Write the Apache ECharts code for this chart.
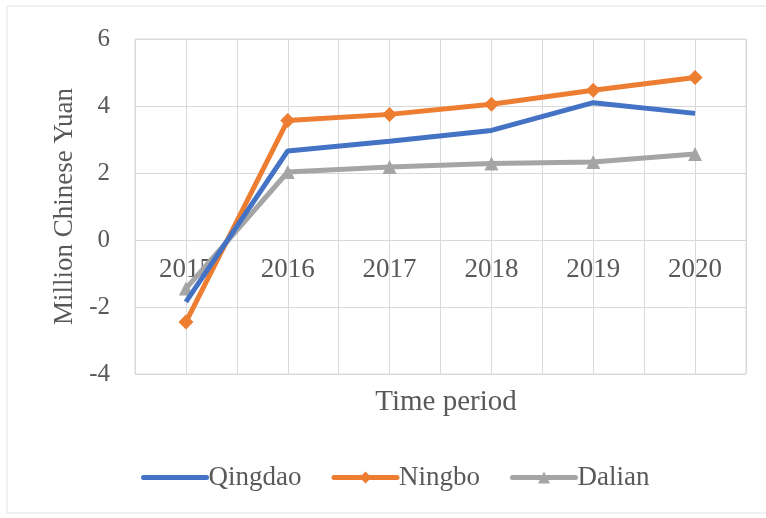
<!DOCTYPE html>
<html>
<head>
<meta charset="utf-8">
<script src="https://cdn.jsdelivr.net/npm/echarts@6/dist/echarts.min.js"></script>
<style>
  html, body { margin: 0; padding: 0; background: #fff; }
  #chart { width: 766px; height: 518px; }
</style>
</head>
<body>
<div id="chart"></div>
<script>
// data
const years = ['2015', '2016', '2017', '2018', '2019', '2020']
const qingdao = [-1.85, 2.66, 2.95, 3.27, 4.1, 3.78]
const ningbo = [-2.45, 3.57, 3.75, 4.05, 4.47, 4.85]
const dalian = [-1.45, 2.03, 2.18, 2.28, 2.33, 2.57]

const font = 'Liberation Serif'
const txt = '#595959'
const gridColor = '#d9d9d9'

const chart = echarts.init(document.getElementById('chart'))

chart.setOption({
  animation: false,
  textStyle: { fontFamily: font, color: txt },
  title: {
    text: 'Time period',
    left: 441, top: 383,
    textAlign: 'center',
    textStyle: { fontFamily: font, fontSize: 29, fontWeight: 'normal', color: txt }
  },
  graphic: [{
    type: 'rect',
    shape: { x: 7, y: 6, width: 780, height: 507 },
    style: { fill: 'none', stroke: '#e3e3e3', lineWidth: 1 },
    z: -1
  }],
  grid: {
    left: 135, right: 20, top: 39, bottom: 144,
    show: true, borderColor: gridColor, borderWidth: 1
  },
  legend: {
    bottom: 22,
    left: 136,
    itemWidth: 63,
    itemHeight: 15,
    itemGap: 30,
    lineStyle: { width: 5, cap: 'round' },
    textStyle: { fontFamily: font, fontSize: 27, color: txt, padding: [0, 0, 0, -3] },
    data: [
      { name: 'Qingdao', itemStyle: { opacity: 0 } },
      'Ningbo',
      'Dalian'
    ]
  },
  xAxis: [{
    type: 'category',
    data: years,
    boundaryGap: true,
    position: 'bottom',
    // sit on the zero line: 0 is 4/10 of the 335px plot height above the bottom
    offset: -134,
    axisLine: { onZero: false, lineStyle: { color: gridColor } },
    axisTick: { show: false },
    axisLabel: { fontFamily: font, fontSize: 27, color: txt, margin: 16 },
    splitLine: { show: false }
  }, {
    // half-category vertical grid lines
    type: 'value',
    min: 0, max: 12, interval: 1,
    position: 'top',
    axisLine: { show: false, onZero: false },
    axisTick: { show: false },
    axisLabel: { show: false },
    splitLine: { show: true, lineStyle: { color: gridColor, width: 1 } }
  }],
  yAxis: {
    type: 'value',
    min: -4, max: 6, interval: 2,
    axisLine: { show: false, onZero: false },
    axisTick: { show: false },
    axisLabel: { fontFamily: font, fontSize: 25, color: txt, margin: 25 },
    splitLine: { lineStyle: { color: gridColor, width: 1 } },
    name: 'Million Chinese Yuan',
    nameLocation: 'middle',
    nameGap: 49,
    nameTextStyle: { fontFamily: font, fontSize: 27, color: txt }
  },
  series: [{
    name: 'Qingdao',
    type: 'line',
    data: qingdao,
    symbol: 'none',
    lineStyle: { color: '#4472C4', width: 5 },
    itemStyle: { color: '#4472C4' },
    z: 3
  }, {
    name: 'Ningbo',
    type: 'line',
    data: ningbo,
    symbol: 'diamond',
    symbolSize: 15,
    lineStyle: { color: '#ED7D31', width: 5 },
    itemStyle: { color: '#ED7D31' },
    z: 2
  }, {
    name: 'Dalian',
    type: 'line',
    data: dalian,
    symbol: 'triangle',
    symbolSize: 14,
    lineStyle: { color: '#A5A5A5', width: 5 },
    itemStyle: { color: '#A5A5A5' },
    z: 1
  }]
})
</script>
</body>
</html>
